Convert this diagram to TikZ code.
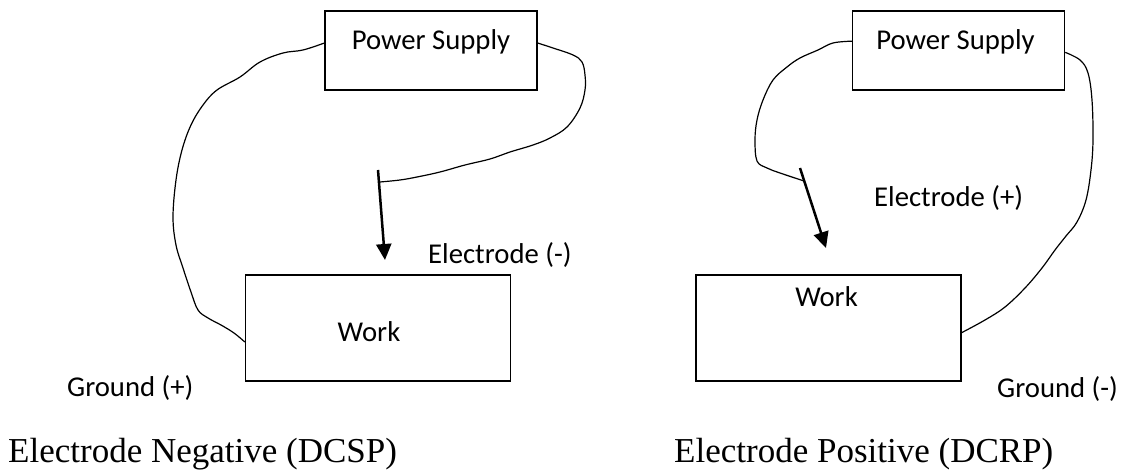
\documentclass[tikz,border=0pt]{standalone}
\usepackage{fontspec}
\setmainfont{Liberation Serif}
\newfontfamily\sansfont{Carlito}
\usetikzlibrary{arrows.meta, positioning}

\begin{document}
\begin{tikzpicture}[
	x = 1pt, y = -1pt,
	> = {Triangle[length=16pt,width=15pt]},
	box/.style = {draw, line width=1.4pt, inner sep=0pt},
	psbox/.style = {box, minimum width=212pt, minimum height=79pt},
	workbox/.style = {box, minimum width=265pt, minimum height=106pt},
	lab/.style = {font=\sansfont\fontsize{28.7}{30}\selectfont, inner sep=0pt},
	heading/.style = {font=\fontsize{35}{40}\selectfont, inner sep=0pt, anchor=base west},
	wire/.style = {line width=1.2pt, smooth, tension=0.6},
	electrode/.style = {->, line width=2.5pt}
	]
	\useasboundingbox (0,0) rectangle (1125,470);

	\node[psbox] (psL) at (431,50.5) {};
	\node[lab, below=39pt of psL.north, anchor=base] (psLtext) {Power Supply};
	\node[workbox] (workL) at (378,328) {};
	\node[lab, anchor=base] (workLtext) at (369,342) {Work};
	\node[lab, anchor=base west] (elLlab) at (428,264) {Electrode (-)};
	\node[lab, anchor=base west] (gndLlab) at (67,396) {Ground (+)};
	\node[heading] (capL) at (8,462) {Electrode Negative (DCSP)};

	\node[psbox] (psR) at (958.5,50.5) {};
	\node[lab, below=39pt of psR.north, anchor=base, xshift=-3pt] (psRtext) {Power Supply};
	\node[workbox] (workR) at (828.5,328) {};
	\node[lab, below=32pt of workR.north, anchor=base, xshift=-2pt] (workRtext) {Work};
	\node[lab, anchor=base west] (elRlab) at (874,207) {Electrode (+)};
	\node[lab, anchor=base west] (gndRlab) at (997,397) {Ground (-)};
	\node[heading] (capR) at (674,462) {Electrode Positive (DCRP)};

	\coordinate (elLtop) at (378,170);
	\coordinate (elLtip) at (385,260);
	\coordinate (elLjoint) at (380,182);
	\coordinate (elRtop) at (800,168);
	\coordinate (elRtip) at (826,248);
	\coordinate (elRjoint) at (804,181);

	\draw[electrode] (elLtop) -- (elLtip);
	\draw[electrode] (elRtop) -- (elRtip);

	\draw[wire] plot coordinates {(psL.4) (553,48) (573,55) (582,62) (585,75) (585,90) (580,108) (567,127) (550,138) (533,145) (510,152) (490,159) (465,165) (440,172) (417,177) (400,180) (elLjoint)};
	\draw[wire] plot coordinates {(psL.176) (303,50) (283,53) (260,62) (240,77) (217,90) (203,105) (191,125) (182,150) (176,180) (173,217) (176,245) (183,268) (191,292) (198,310) (208,318) (221,325) (234,333) (workL.186.5)};
	\draw[wire] plot coordinates {(psR.175) (833,43) (818,50) (800,58) (787,67) (773,80) (763,100) (757,120) (755,140) (757,161) (767,168) (780,173) (elRjoint)};
	\draw[wire] plot coordinates {(psR.359) (1080,60) (1088,73) (1092,100) (1093,140) (1091,170) (1086,200) (1077,222) (1066,236) (1055,250) (1042,268) (1025,288) (1005,307) (985,320) (workR.358.7)};
\end{tikzpicture}
\end{document}
